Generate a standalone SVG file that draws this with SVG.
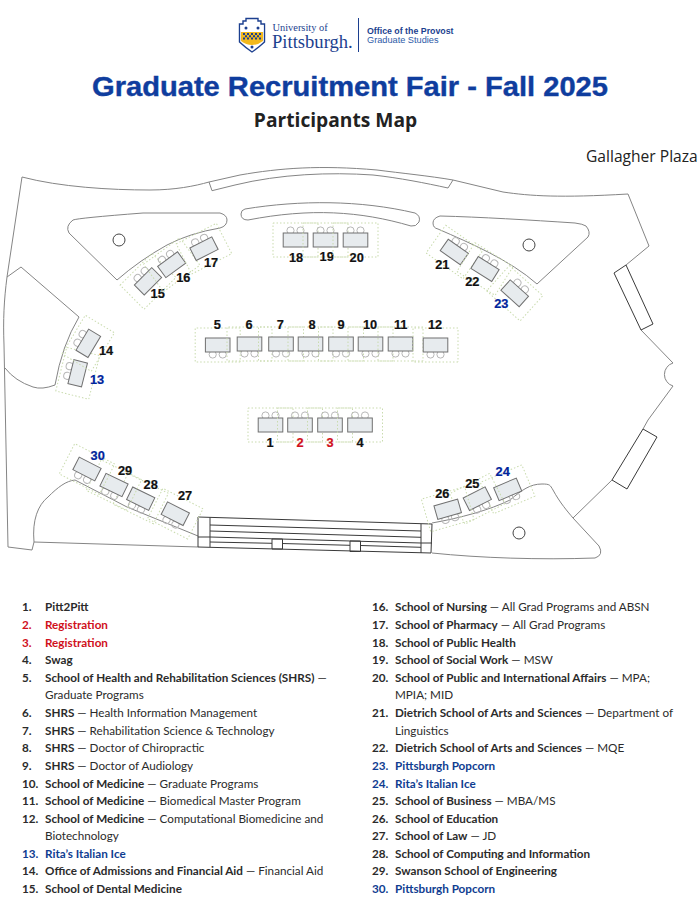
<svg xmlns="http://www.w3.org/2000/svg" width="700" height="900" viewBox="0 0 700 900">
<style>
.w{fill:none;stroke:#858585;stroke-width:1}
.b{fill:none;stroke:#3a3a3a;stroke-width:1}
.zone{fill:none;stroke:#c9dbae;stroke-width:1;stroke-dasharray:1.5 2}
.seat{fill:none;stroke:#b8b8b8;stroke-width:1}
.tb{fill:#e7ebee;stroke:#707070;stroke-width:1}
.n{font:bold 12.8px "Liberation Sans",Arial,sans-serif;text-anchor:middle;fill:#111;stroke:#111;stroke-width:.2}
.nb{fill:#00249c;stroke:#00249c}.nr{fill:#d0101c;stroke:#d0101c}
.l{font:11.7px Lato,"Liberation Sans",sans-serif;fill:#2b2b2b}
.num{font-weight:700}
.s{font-weight:700}
.bl{fill:#0f3d91}.rd{fill:#d0101c}
.chk{fill:#1c3f8f}
</style>
<defs>
<g id="tbl">
<rect class="zone" x="-22.5" y="-17" width="45" height="34"/>
<circle class="seat" cx="-5" cy="-9.5" r="3.6"/>
<circle class="seat" cx="5" cy="-9.5" r="3.6"/>
<rect class="tb" x="-12.3" y="-7" width="24.6" height="14"/>
</g>
</defs>

<g id="logo">
<path d="M239.500 24 L243 24 L243 21 L246 21 L246 18.500 L258 18.500 L258 21 L261 21 L261 24 L264.500 24 L264.500 42 Q258 48 252 52 Q246 48 239.500 42 Z" fill="#fff" stroke="#1c3f8f" stroke-width="1.400"/>
<path d="M240.500 25 H263.500 V31.500 H240.500 Z" fill="#fff"/>
<path d="M241 32 H263 V41 Q258 45 252 45 Q246 45 241 41 Z" fill="#f2b81c"/>
<path class="chk" d="M243,33h2v2h-2zM247,33h2v2h-2zM251,33h2v2h-2zM255,33h2v2h-2zM259,33h2v2h-2zM245,35.200h2v2h-2zM249,35.200h2v2h-2zM253,35.200h2v2h-2zM257,35.200h2v2h-2zM243,37.400h2v2h-2zM247,37.400h2v2h-2zM251,37.400h2v2h-2zM255,37.400h2v2h-2zM259,37.400h2v2h-2z"/>
<circle class="chk" cx="246" cy="28" r="1.500"/><circle class="chk" cx="258" cy="28" r="1.500"/><circle class="chk" cx="252" cy="47" r="1.500"/>
<text x="272.500" y="31" font-family="Liberation Serif,serif" font-size="10.400" fill="#1c3f8f">University of</text>
<text x="272" y="47.500" font-family="Liberation Serif,serif" font-size="18.600" fill="#1c3f8f">Pittsburgh.</text>
<line x1="358.500" y1="18" x2="358.500" y2="52" stroke="#1c3f8f" stroke-width="1"/>
<text x="367" y="34" font-family="Liberation Sans,sans-serif" font-size="8.800" font-weight="700" fill="#1c3f8f">Office of the Provost</text>
<text x="367" y="43" font-family="Liberation Sans,sans-serif" font-size="9.200" fill="#2d5aa8">Graduate Studies</text>
</g>

<text x="92" y="96" font-family="Liberation Sans,sans-serif" font-size="28" font-weight="700" fill="#0f3d9e" stroke="#0f3d9e" stroke-width=".4" textLength="516" lengthAdjust="spacingAndGlyphs">Graduate Recruitment Fair - Fall 2025</text>
<text x="335.500" y="127" font-family="Open Sans,sans-serif" font-size="19.200" font-weight="700" fill="#222" text-anchor="middle">Participants Map</text>
<text x="586" y="162" font-family="Open Sans,sans-serif" font-size="15.600" fill="#222">Gallagher Plaza</text>

<g id="plan">
<path class="w" d="M7,277 C4,300 3,320 4,345 L8,547 L32,550 L34,542 L198,547"/>
<path class="w" d="M7,277 L22,177 C60,187 110,190 150,190 C175,190 195,186 209,182 L240,175 C280,168 320,165 377,170 C400,173 430,176 453,180 L503,192 C530,196 560,198 628,194 L649,246 L626,265"/>
<path class="w" d="M209,182 L212,190.700 L235,185 C280,174 330,172 373,175 C400,178 425,183 448,188 L453,180"/>
<path class="w" d="M7,277 L21,267 L79,317 Q62,345 55,385 Q42,390 33,387 Q15,381 5,368"/>
<path class="w" d="M117,280 L69,233 Q65,226 73,220 Q78,218 143,213 L220,213 Q227,215 227,220 Q227,226 220,228 Q190,233 167,245 Q140,260 117,280 Z"/>
<circle cx="119" cy="240" r="6" fill="none" stroke="#444" stroke-width="1"/>
<path class="w" d="M245,209 C300,200 360,200 415,213 Q421,216 419,222 Q416,227 411,226 C360,211 310,208 248,220 Q241,220 241,214 Q241,210 245,209 Z"/>
<path class="w" d="M440,216 Q433,218 433,223 Q433,228 438,229 C470,243 510,260 537,284 L588,237 Q591,232 586,226 Q583,224 575,223 C530,220 480,217 440,216 Z"/>
<circle cx="529" cy="245" r="6" fill="none" stroke="#444" stroke-width="1"/>
<path class="w" d="M641,330 L673,363 A12,12 0 0 0 673,386 L648,420 L643,429"/>
<path class="w" d="M612,480 L573,518"/>
<path class="w" d="M34,542 C32,520 38,505 48,497 C58,487 66,481 75,480 L127,507 L198,536"/>
<path class="w" d="M432,523 C460,518 490,510 510,500 C522,490 530,484 542,484 C550,484 550,485 553,490 C560,503 568,512 573,518 L599,546 Q604,555 595,558 C540,560 480,558 432,553"/>
<circle cx="519" cy="533" r="6" fill="none" stroke="#444" stroke-width="1"/>
<path class="b" d="M626,265 L614,273 L641,330 L653,324 Z"/>
<path class="b" d="M643,429 L657,437 L627,489 L612,480 Z"/>
<g id="bleachers">
<path class="b" d="M198,517 L432,524 L431,553 L198,547 Z"/>
<path class="b" d="M210,517.500 L210,547 M421,524 L421,553 M198,537 L210,537 M421,543 L432,543"/>
<path class="b" d="M210,525 L421,531 M210,531 L421,537.300 M210,537 L421,543 M210,542 L272,543.300 M282,543.500 L350,545.300 M361,545.500 L421,547.300"/>
<path class="b" d="M272,539 h10.500 v10 h-10.500 Z M350,541 h10.500 v10.500 h-10.500 Z"/>
</g>
</g>

<g id="t1"><use href="#tbl" x="270.500" y="425"/><text class="n" x="270" y="446.700">1</text></g>
<g id="t2"><use href="#tbl" x="300" y="425"/><text class="n nr" x="300" y="446.700">2</text></g>
<g id="t3"><use href="#tbl" x="330" y="425"/><text class="n nr" x="330" y="446.700">3</text></g>
<g id="t4"><use href="#tbl" x="360" y="425"/><text class="n" x="360" y="446.700">4</text></g>
<g id="t5"><use href="#tbl" transform="translate(217.700,345) rotate(180)"/><text class="n" x="217.300" y="329.300">5</text></g>
<g id="t6"><use href="#tbl" transform="translate(249.500,344) rotate(180)"/><text class="n" x="249" y="329.300">6</text></g>
<g id="t7"><use href="#tbl" transform="translate(281,344) rotate(180)"/><text class="n" x="280.300" y="329.300">7</text></g>
<g id="t8"><use href="#tbl" transform="translate(310.500,344) rotate(180)"/><text class="n" x="312" y="329.300">8</text></g>
<g id="t9"><use href="#tbl" transform="translate(341,344) rotate(180)"/><text class="n" x="341" y="329.300">9</text></g>
<g id="t10"><use href="#tbl" transform="translate(370.500,344) rotate(180)"/><text class="n" x="370" y="329.300">10</text></g>
<g id="t11"><use href="#tbl" transform="translate(400.500,344) rotate(180)"/><text class="n" x="400.700" y="329.300">11</text></g>
<g id="t12"><use href="#tbl" transform="translate(435.500,345) rotate(180)"/><text class="n" x="435" y="329.300">12</text></g>
<g id="t13"><use href="#tbl" transform="translate(77.700,373.300) rotate(-76)"/><text class="n nb" x="97" y="384">13</text></g>
<g id="t14"><use href="#tbl" transform="translate(88.300,343.300) rotate(-59)"/><text class="n" x="106" y="355.300">14</text></g>
<g id="t15"><use href="#tbl" transform="translate(148,281.300) rotate(-45)"/><text class="n" x="157.700" y="298.300">15</text></g>
<g id="t16"><use href="#tbl" transform="translate(171.700,264.700) rotate(-36)"/><text class="n" x="183.300" y="282">16</text></g>
<g id="t17"><use href="#tbl" transform="translate(204,248.700) rotate(-27)"/><text class="n" x="211" y="267">17</text></g>
<g id="t18"><use href="#tbl" x="295.500" y="240"/><text class="n" x="296" y="261.700">18</text></g>
<g id="t19"><use href="#tbl" x="325.500" y="240"/><text class="n" x="326.700" y="261">19</text></g>
<g id="t20"><use href="#tbl" x="355.500" y="240"/><text class="n" x="356.700" y="261.700">20</text></g>
<g id="t21"><use href="#tbl" transform="translate(454.300,252) rotate(35)"/><text class="n" x="442.300" y="269.300">21</text></g>
<g id="t22"><use href="#tbl" transform="translate(485,269) rotate(32)"/><text class="n" x="472.300" y="285.700">22</text></g>
<g id="t23"><use href="#tbl" transform="translate(514.700,293.300) rotate(42)"/><text class="n nb" x="501.300" y="307.700">23</text></g>
<g id="t24"><use href="#tbl" transform="translate(507.700,489.300) rotate(157)"/><text class="n nb" x="502.700" y="476.300">24</text></g>
<g id="t25"><use href="#tbl" transform="translate(477.300,498.700) rotate(153)"/><text class="n" x="472.300" y="487.700">25</text></g>
<g id="t26"><use href="#tbl" transform="translate(447.700,509.300) rotate(164)"/><text class="n" x="442.300" y="498.300">26</text></g>
<g id="t27"><use href="#tbl" transform="translate(175.300,513.700) rotate(207)"/><text class="n" x="185" y="500.300">27</text></g>
<g id="t28"><use href="#tbl" transform="translate(140.700,498.700) rotate(206)"/><text class="n" x="150.700" y="488.700">28</text></g>
<g id="t29"><use href="#tbl" transform="translate(114,485) rotate(206)"/><text class="n" x="125" y="475">29</text></g>
<g id="t30"><use href="#tbl" transform="translate(87,469) rotate(207)"/><text class="n nb" x="97.700" y="459.700">30</text></g>

<g id="list-left" class="l">
<text y="611"><tspan class="num" x="22">1.</tspan><tspan class="s" x="45">Pitt2Pitt</tspan></text>
<text y="629" class="rd"><tspan class="num" x="22">2.</tspan><tspan class="s" x="45">Registration</tspan></text>
<text y="647" class="rd"><tspan class="num" x="22">3.</tspan><tspan class="s" x="45">Registration</tspan></text>
<text y="664"><tspan class="num" x="22">4.</tspan><tspan class="s" x="45">Swag</tspan></text>
<text y="682"><tspan class="num" x="22">5.</tspan><tspan class="s" x="45">School of Health and Rehabilitation Sciences (SHRS)</tspan> —</text>
<text x="45" y="699">Graduate Programs</text>
<text y="717"><tspan class="num" x="22">6.</tspan><tspan class="s" x="45">SHRS</tspan> — Health Information Management</text>
<text y="735"><tspan class="num" x="22">7.</tspan><tspan class="s" x="45">SHRS</tspan> — Rehabilitation Science &amp; Technology</text>
<text y="752"><tspan class="num" x="22">8.</tspan><tspan class="s" x="45">SHRS</tspan> — Doctor of Chiropractic</text>
<text y="770"><tspan class="num" x="22">9.</tspan><tspan class="s" x="45">SHRS</tspan> — Doctor of Audiology</text>
<text y="788"><tspan class="num" x="22">10.</tspan><tspan class="s" x="45">School of Medicine</tspan> — Graduate Programs</text>
<text y="805"><tspan class="num" x="22">11.</tspan><tspan class="s" x="45">School of Medicine</tspan> — Biomedical Master Program</text>
<text y="823"><tspan class="num" x="22">12.</tspan><tspan class="s" x="45">School of Medicine</tspan> — Computational Biomedicine and</text>
<text x="45" y="840">Biotechnology</text>
<text y="858" class="bl"><tspan class="num" x="22">13.</tspan><tspan class="s" x="45">Rita’s Italian Ice</tspan></text>
<text y="875"><tspan class="num" x="22">14.</tspan><tspan class="s" x="45">Office of Admissions and Financial Aid</tspan> — Financial Aid</text>
<text y="893"><tspan class="num" x="22">15.</tspan><tspan class="s" x="45">School of Dental Medicine</tspan></text>
</g>
<g id="list-right" class="l">
<text y="611"><tspan class="num" x="372">16.</tspan><tspan class="s" x="395">School of Nursing</tspan> — All Grad Programs and ABSN</text>
<text y="629"><tspan class="num" x="372">17.</tspan><tspan class="s" x="395">School of Pharmacy</tspan> — All Grad Programs</text>
<text y="647"><tspan class="num" x="372">18.</tspan><tspan class="s" x="395">School of Public Health</tspan></text>
<text y="664"><tspan class="num" x="372">19.</tspan><tspan class="s" x="395">School of Social Work</tspan> — MSW</text>
<text y="682"><tspan class="num" x="372">20.</tspan><tspan class="s" x="395">School of Public and International Affairs</tspan> — MPA;</text>
<text x="395" y="699">MPIA; MID</text>
<text y="717"><tspan class="num" x="372">21.</tspan><tspan class="s" x="395">Dietrich School of Arts and Sciences</tspan> — Department of</text>
<text x="395" y="735">Linguistics</text>
<text y="752"><tspan class="num" x="372">22.</tspan><tspan class="s" x="395">Dietrich School of Arts and Sciences</tspan> — MQE</text>
<text y="770" class="bl"><tspan class="num" x="372">23.</tspan><tspan class="s" x="395">Pittsburgh Popcorn</tspan></text>
<text y="788" class="bl"><tspan class="num" x="372">24.</tspan><tspan class="s" x="395">Rita’s Italian Ice</tspan></text>
<text y="805"><tspan class="num" x="372">25.</tspan><tspan class="s" x="395">School of Business</tspan> — MBA/MS</text>
<text y="823"><tspan class="num" x="372">26.</tspan><tspan class="s" x="395">School of Education</tspan></text>
<text y="840"><tspan class="num" x="372">27.</tspan><tspan class="s" x="395">School of Law</tspan> — JD</text>
<text y="858"><tspan class="num" x="372">28.</tspan><tspan class="s" x="395">School of Computing and Information</tspan></text>
<text y="875"><tspan class="num" x="372">29.</tspan><tspan class="s" x="395">Swanson School of Engineering</tspan></text>
<text y="893" class="bl"><tspan class="num" x="372">30.</tspan><tspan class="s" x="395">Pittsburgh Popcorn</tspan></text>
</g>
</svg>
